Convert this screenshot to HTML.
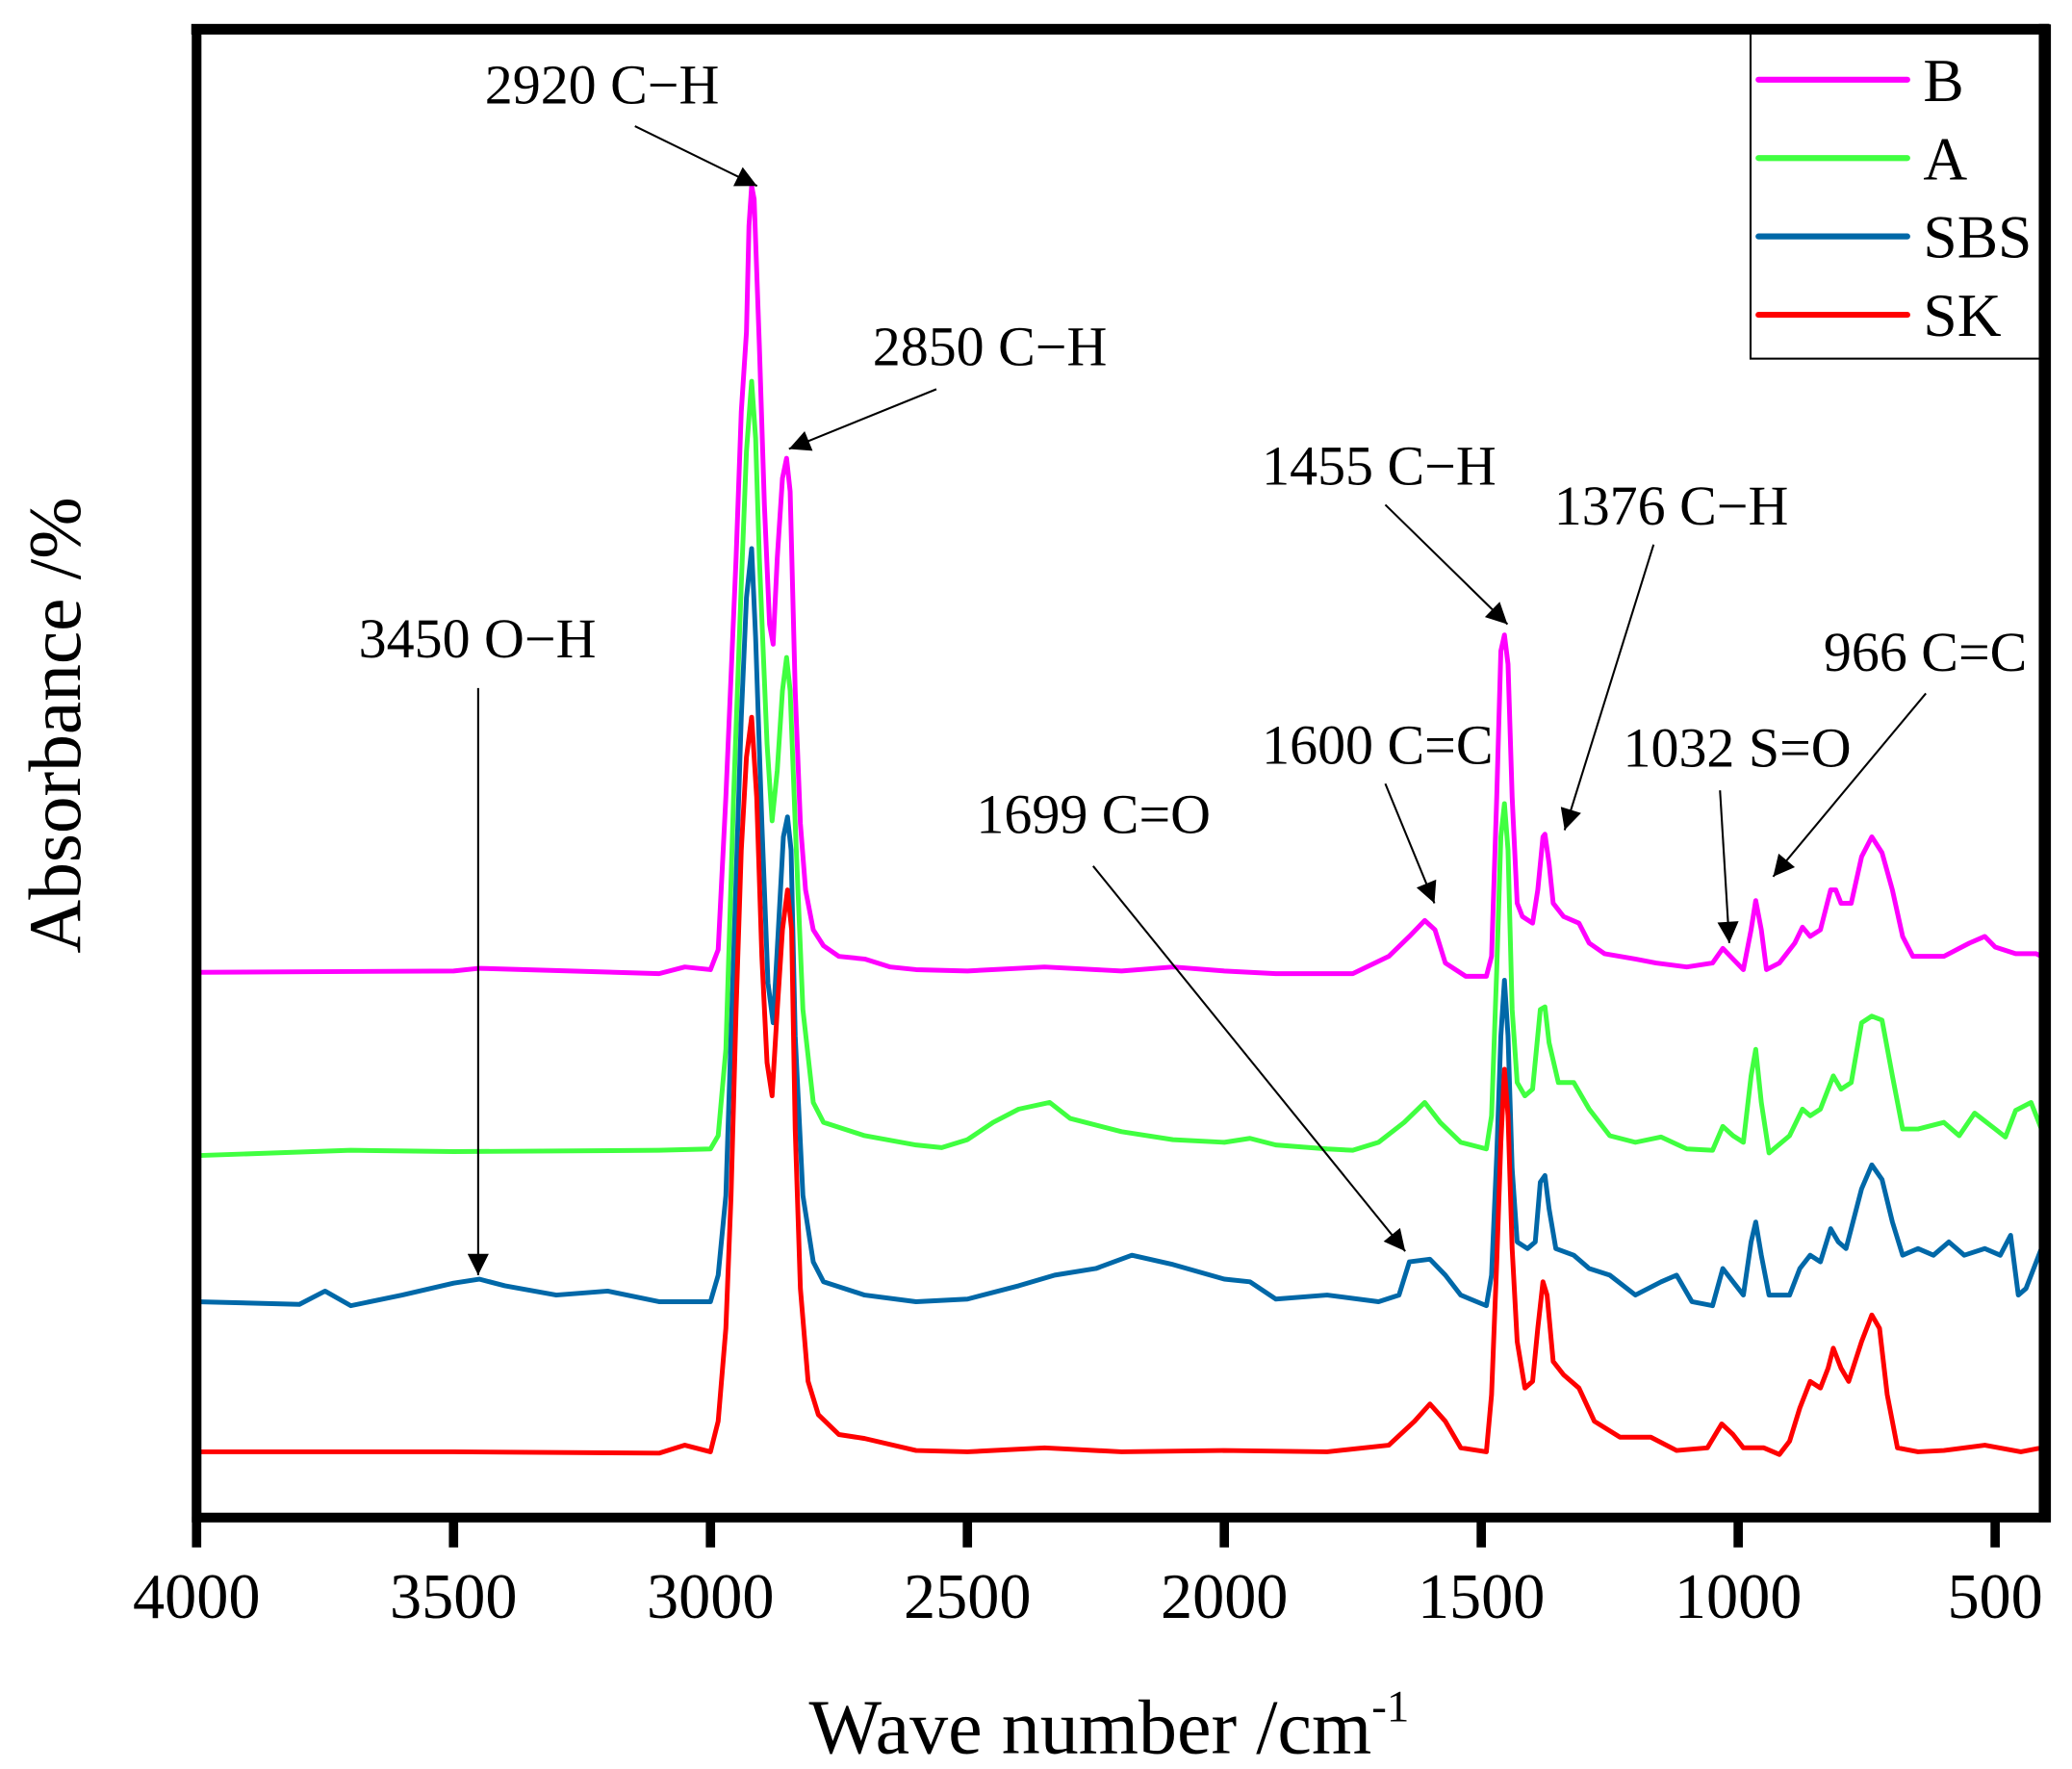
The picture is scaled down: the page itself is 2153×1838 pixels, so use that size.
<!DOCTYPE html>
<html><head><meta charset="utf-8"><style>
html,body{margin:0;padding:0;background:#fff;}
svg{display:block;}
text{font-family:"Liberation Serif","DejaVu Serif",serif;fill:#000;}
</style></head><body>
<svg id="s" width="2153" height="1838" viewBox="0 0 1560 1331.8" xmlns="http://www.w3.org/2000/svg">
<defs>
<marker id="ah2" viewBox="0 0 10 10" refX="10" refY="5" markerWidth="22" markerHeight="16" orient="auto" markerUnits="userSpaceOnUse"><path d="M0,0 L10,5 L0,10 Z" fill="#000"/></marker></defs>
<g id="series" fill="none" stroke-width="3.6" stroke-linejoin="round"></g>
<rect x="148" y="22" width="1392.5" height="1120.5" fill="none" stroke="#000" stroke-width="7.3"/>
<g id="ticks" stroke="#000" stroke-width="7"></g>
<g id="tl" font-size="48" text-anchor="middle"></g>
<rect x="1318" y="25" width="220" height="245" fill="#fff" stroke="#000" stroke-width="1.5"/>
<g stroke-width="4.5" stroke-linecap="round">
<line x1="1324" y1="60" x2="1436" y2="60" stroke="#ff00ff"/>
<line x1="1324" y1="119" x2="1436" y2="119" stroke="#40ff40"/>
<line x1="1324" y1="178" x2="1436" y2="178" stroke="#0068a8"/>
<line x1="1324" y1="237" x2="1436" y2="237" stroke="#ff0000"/>
</g>
<g font-size="46">
<text x="1448" y="76">B</text><text x="1448" y="135">A</text><text x="1448" y="194">SBS</text><text x="1448" y="253">SK</text>
</g>
<rect x="1535" y="18" width="8" height="1128" fill="#000"/>
<rect x="144" y="18" width="1399" height="8" fill="#000"/>
<g font-size="42">
<text x="365" y="78">2920 C−H</text>
<text x="657" y="275">2850 C−H</text>
<text x="270" y="495">3450 O−H</text>
<text x="950" y="365">1455 C−H</text>
<text x="1170" y="395">1376 C−H</text>
<text x="1373" y="505">966 C=C</text>
<text x="1222" y="577">1032 S=O</text>
<text x="950" y="575">1600 C=C</text>
<text x="735" y="627">1699 C=O</text>
</g>
<g stroke="#000" stroke-width="1.5" marker-end="url(#ah2)">
<line x1="478" y1="95" x2="570" y2="140"/>
<line x1="705" y1="293" x2="594" y2="338"/>
<line x1="360" y1="518" x2="360" y2="960"/>
<line x1="1043" y1="380" x2="1135" y2="470"/>
<line x1="1245" y1="410" x2="1178" y2="625"/>
<line x1="1450" y1="522" x2="1335" y2="660"/>
<line x1="1295" y1="595" x2="1302" y2="710"/>
<line x1="1043" y1="590" x2="1080" y2="680"/>
<line x1="823" y1="652" x2="1058" y2="942"/>
</g>
<text x="60" y="546" font-size="56" text-anchor="middle" transform="rotate(-90 60 546)">Absorbance /%</text>
<text x="835" y="1320" font-size="58" text-anchor="middle">Wave number /cm<tspan font-size="34" dy="-24">-1</tspan></text>
</svg>
<script>
var X=function(w){return 148+(4000-w)*0.3869;};
var data={
"#ff00ff":[4000,732,3500,731,3450,729,3100,733,3050,728,3000,730,2985,715,2970,600,2950,420,2940,310,2930,250,2925,170,2920,140,2915,150,2905,260,2895,380,2885,470,2878,485,2870,420,2860,360,2852,345,2845,370,2835,520,2825,620,2815,670,2800,700,2780,712,2750,720,2700,722,2650,728,2600,730,2500,731,2350,728,2200,731,2100,728,2000,731,1900,733,1750,733,1680,720,1640,705,1610,693,1590,700,1570,725,1530,735,1490,735,1480,720,1470,600,1462,490,1455,478,1448,500,1440,600,1430,680,1420,690,1400,695,1390,670,1380,630,1376,628,1368,650,1360,680,1340,690,1310,695,1290,710,1260,718,1200,722,1160,725,1100,728,1050,725,1030,714,1010,722,990,730,975,700,966,678,955,700,945,730,920,725,890,710,875,698,860,705,840,700,820,670,810,670,800,680,780,680,760,645,740,630,720,642,700,670,680,705,660,720,600,720,550,710,520,705,500,713,460,718,420,718,400,722],
"#40ff40":[4000,870,3700,866,3500,867,3100,866,3000,865,2985,855,2970,790,2955,600,2940,440,2930,340,2920,287,2912,330,2905,420,2890,560,2880,618,2870,580,2860,520,2852,495,2845,520,2835,620,2820,760,2800,830,2780,845,2700,855,2600,862,2550,864,2500,858,2450,845,2400,835,2340,830,2300,842,2200,852,2100,858,2000,860,1950,857,1900,862,1800,865,1750,866,1700,860,1650,845,1610,830,1580,845,1540,860,1490,865,1480,840,1470,730,1462,630,1455,605,1448,640,1440,760,1430,815,1415,825,1400,820,1385,760,1376,758,1368,785,1350,815,1320,815,1290,835,1250,855,1200,860,1150,856,1100,865,1050,866,1030,848,1010,855,990,860,975,810,966,790,955,830,940,868,900,855,875,835,860,840,840,835,815,810,800,820,780,815,760,770,740,765,720,768,700,810,680,850,650,850,600,845,570,855,540,838,500,850,480,856,460,836,430,830,410,850,400,868],
"#0068a8":[4000,980,3800,982,3750,972,3700,983,3600,975,3500,966,3450,963,3400,968,3300,975,3200,972,3100,980,3000,980,2985,960,2970,900,2955,720,2940,540,2930,450,2920,413,2912,480,2900,620,2888,740,2878,770,2868,700,2858,630,2850,615,2843,640,2835,780,2820,900,2800,950,2780,965,2700,975,2600,980,2500,978,2400,968,2330,960,2250,955,2180,945,2100,952,2000,963,1950,965,1900,978,1800,975,1700,980,1660,975,1640,950,1600,948,1570,960,1540,975,1490,983,1480,960,1470,870,1462,780,1455,738,1448,780,1440,880,1430,935,1410,940,1395,935,1385,890,1376,885,1368,910,1355,940,1320,945,1290,955,1250,960,1200,975,1150,965,1120,960,1090,980,1050,983,1030,955,1010,965,990,975,975,935,966,920,955,945,940,975,900,975,880,955,860,945,840,950,820,925,805,935,790,940,760,895,740,877,720,888,700,920,680,945,650,940,620,945,590,935,560,945,520,940,490,945,470,930,455,975,440,970,420,950,400,930],
"#ff0000":[4000,1093,3500,1093,3100,1094,3050,1088,3000,1093,2985,1070,2970,1000,2960,900,2950,760,2940,640,2930,570,2920,540,2910,600,2900,720,2890,800,2880,825,2870,760,2860,700,2850,670,2842,700,2835,850,2825,970,2810,1040,2790,1065,2750,1080,2700,1083,2600,1092,2500,1093,2350,1090,2200,1093,2000,1092,1800,1093,1680,1088,1630,1070,1600,1057,1570,1070,1540,1090,1490,1093,1480,1050,1470,950,1462,860,1455,805,1448,840,1440,940,1430,1010,1415,1045,1400,1040,1390,1000,1380,965,1372,975,1360,1025,1340,1035,1310,1045,1280,1070,1230,1082,1170,1082,1120,1092,1060,1090,1032,1072,1010,1080,990,1090,950,1090,920,1095,900,1085,880,1060,860,1040,840,1045,825,1030,815,1015,800,1030,785,1040,760,1010,740,990,725,1000,710,1050,690,1090,650,1093,600,1092,520,1088,450,1093,410,1090,400,1083]};
var ns="http://www.w3.org/2000/svg",g=document.getElementById("series");
for(var c in data){var a=data[c],d="";for(var i=0;i<a.length;i+=2)d+=(i?"L":"M")+X(a[i]).toFixed(1)+","+a[i+1]+" ";
var p=document.createElementNS(ns,"path");p.setAttribute("d",d);p.setAttribute("stroke",c);g.appendChild(p);}
var t=document.getElementById("ticks"),tl=document.getElementById("tl");
[4000,3500,3000,2500,2000,1500,1000,500].forEach(function(w){var x=X(w);
var l=document.createElementNS(ns,"line");l.setAttribute("x1",x);l.setAttribute("x2",x);l.setAttribute("y1",1142);l.setAttribute("y2",1165);t.appendChild(l);
var s=document.createElementNS(ns,"text");s.setAttribute("x",x);s.setAttribute("y",1218);s.textContent=w;tl.appendChild(s);});
</script>
</body></html>
